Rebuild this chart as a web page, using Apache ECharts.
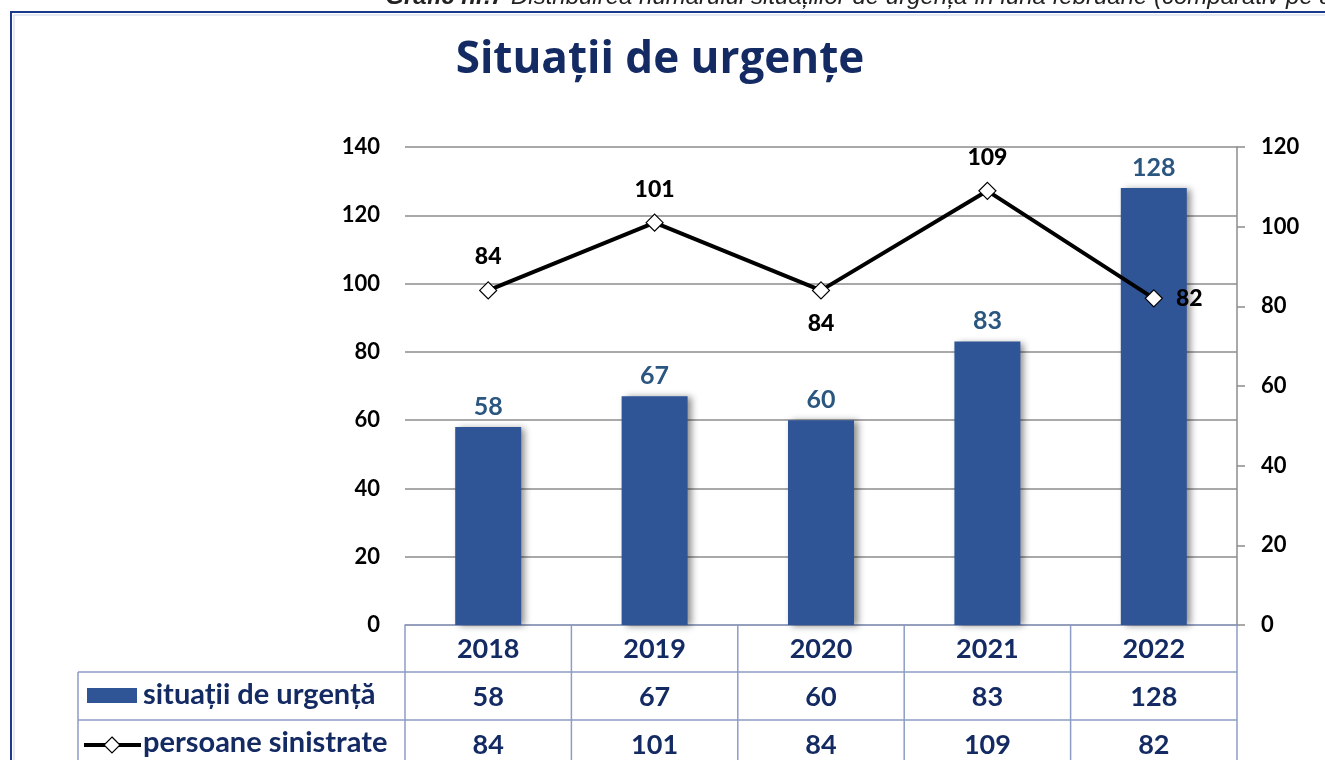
<!DOCTYPE html>
<html>
<head>
<meta charset="utf-8">
<title>Situații de urgențe</title>
<script src="https://cdn.jsdelivr.net/npm/echarts@6/dist/echarts.min.js"></script>
<style>
    html, body { margin: 0; padding: 0; background: #fff; }
    #chart { width: 1325px; height: 760px; }
</style>
</head>
<body>
<div id="chart"></div>
<script>
// date
var years = ['2018', '2019', '2020', '2021', '2022'];
var situatii = [58, 67, 60, 83, 128];
var persoane = [84, 101, 84, 109, 82];
var seriesNames = ['situații de urgență', 'persoane sinistrate'];
var leftTicks = { min: 0, max: 140, step: 20 };
var rightTicks = { min: 0, max: 120, step: 20 };
var linePos = ['top', 'top', 'bottom', 'top', 'right'];

var navy = '#142a63';
var barColor = '#2f5597';
var tableLine = '#8e9dc6';
var font = 'Lato';

var gridLeft = 405, gridRight = 88, gridTop = 147, gridBottom = 135;
var W = 1325, H = 760;
var rowH = 48;

var chart = echarts.init(document.getElementById('chart'));

// liniile tabelului de date (pe coloanele axei)
function tableLines() {
    var els = [];
    var x0 = gridLeft, x1 = W - gridRight;
    var colW = (x1 - x0) / years.length;
    var yTop = H - gridBottom;
    var firstCol = 78;
    var st = { stroke: tableLine, lineWidth: 1.5 };
    els.push({ type: 'line', shape: { x1: firstCol, y1: yTop + rowH - 1, x2: x1, y2: yTop + rowH - 1 }, style: st });
    els.push({ type: 'line', shape: { x1: firstCol, y1: yTop + 2 * rowH - 1, x2: x1, y2: yTop + 2 * rowH - 1 }, style: st });
    els.push({ type: 'line', shape: { x1: firstCol, y1: yTop + rowH - 1, x2: firstCol, y2: H }, style: st });
    for (var i = 0; i <= years.length; i++) {
        var x = x0 + i * colW;
        els.push({ type: 'line', shape: { x1: x, y1: yTop, x2: x, y2: H }, style: st });
    }
    return els;
}

// legenda din prima coloana a tabelului
function tableLegend() {
    var yTop = H - gridBottom;
    var y1 = yTop + rowH * 1.5;
    var y2 = yTop + rowH * 2.5;
    var txt = { fontFamily: font, fontSize: 29, fontWeight: 'bold', fill: navy, verticalAlign: 'middle' };
    return [
        { type: 'rect', shape: { x: 87, y: y1 - 9, width: 50, height: 15 }, style: { fill: barColor } },
        { type: 'text', x: 143, y: y1 - 2, style: Object.assign({ text: seriesNames[0] }, txt) },
        { type: 'line', shape: { x1: 84, y1: y2, x2: 141, y2: y2 }, style: { stroke: '#000', lineWidth: 4 } },
        { type: 'polygon', shape: { points: [[112, y2 - 8], [120, y2], [112, y2 + 8], [104, y2]] }, style: { fill: '#fff', stroke: '#000', lineWidth: 1.2 } },
        { type: 'text', x: 143, y: y2 - 2, style: Object.assign({ text: seriesNames[1] }, txt) }
    ];
}

var headStyle = { fontFamily: 'Liberation Sans', fontStyle: 'italic', fontSize: 24, fill: '#222' };

var graphics = [
    // chenar
    { type: 'rect', shape: { x: 11, y: 12, width: 1400, height: 800 }, style: { fill: 'none', stroke: '#1b3a8c', lineWidth: 2 }, z: 10 },
    { type: 'rect', shape: { x: 14, y: 15, width: 1400, height: 800 }, style: { fill: 'none', stroke: '#c9d3ea', lineWidth: 1 }, z: 10 },
    // text taiat sus
    { type: 'text', x: 504, y: -15, z: 10, style: Object.assign({ text: 'Grafic nr.7', fontWeight: 'bold', align: 'right' }, headStyle) },
    { type: 'text', x: 511, y: -15, z: 10, style: Object.assign({ text: 'Distribuirea numărului situațiilor de urgență în luna februarie (comparativ pe ani)' }, headStyle) }
].concat(tableLines(), tableLegend());

var option = {
    backgroundColor: '#fff',
    title: {
        text: 'Situații de urgențe',
        left: 655, top: 33, textAlign: 'center',
        textStyle: { fontFamily: 'Open Sans', fontSize: 44, fontWeight: 'bold', color: navy }
    },
    grid: { left: gridLeft, right: gridRight, top: gridTop, bottom: gridBottom },
    xAxis: {
        type: 'category',
        data: years,
        axisLine: { show: true, lineStyle: { color: tableLine, width: 1.5 } },
        axisTick: { show: false },
        axisLabel: {
            interval: 0,
            margin: 0,
            verticalAlign: 'top',
            formatter: function (value, index) {
                return '{r|' + value + '}\n{r|' + situatii[index] + '}\n{r|' + persoane[index] + '}';
            },
            rich: {
                r: { fontFamily: font, fontSize: 27, fontWeight: 'bold', color: navy, lineHeight: rowH, align: 'center' }
            }
        }
    },
    yAxis: [{
        type: 'value',
        min: leftTicks.min, max: leftTicks.max, interval: leftTicks.step,
        axisLine: { show: false },
        axisTick: { show: false },
        axisLabel: { fontFamily: font, fontSize: 22, fontWeight: 'bold', color: '#000', margin: 25 },
        splitLine: { lineStyle: { color: '#8c8c8c', width: 1.5 } }
    }, {
        type: 'value',
        min: rightTicks.min, max: rightTicks.max, interval: rightTicks.step,
        position: 'right',
        axisLine: { show: true, lineStyle: { color: '#8c8c8c', width: 1.5 } },
        axisTick: { show: true, length: 8, lineStyle: { color: '#8c8c8c', width: 1.5 } },
        axisLabel: { fontFamily: font, fontSize: 22, fontWeight: 'bold', color: '#000', margin: 24 },
        splitLine: { show: false }
    }],
    series: [{
        name: seriesNames[0],
        type: 'bar',
        data: situatii,
        barWidth: 66,
        itemStyle: {
            color: barColor,
            shadowColor: 'rgba(0,0,0,0.45)', shadowBlur: 7, shadowOffsetX: 4, shadowOffsetY: 1
        },
        label: {
            show: true, position: 'top', distance: 8,
            fontFamily: font, fontSize: 25, fontWeight: 'bold', color: '#2a5680'
        }
    }, {
        name: seriesNames[1],
        type: 'line',
        yAxisIndex: 1,
        data: persoane.map(function (v, i) {
            return { value: v, label: { position: linePos[i] } };
        }),
        symbol: 'diamond',
        symbolSize: 17,
        lineStyle: { color: '#000', width: 4 },
        itemStyle: { color: '#fff', borderColor: '#000', borderWidth: 1.2 },
        label: {
            show: true, distance: 13,
            fontFamily: font, fontSize: 23, fontWeight: 900, color: '#000'
        },
        z: 5
    }],
    graphic: graphics
};

chart.setOption(option);
</script>
</body>
</html>
